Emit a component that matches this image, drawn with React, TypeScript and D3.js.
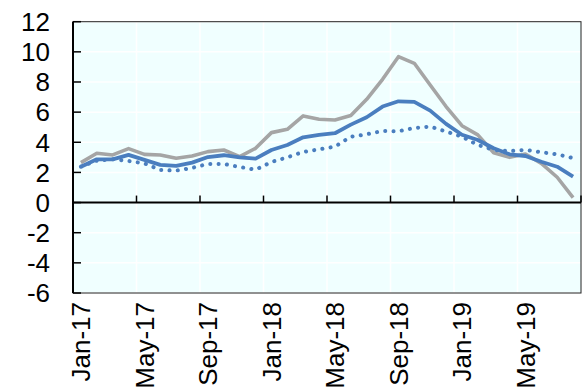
import React from "react";
import * as d3 from "d3";

// Monthly series, Jan-17 .. Aug-19
const months: string[] = [
  "Jan-17", "Feb-17", "Mar-17", "Apr-17", "May-17", "Jun-17", "Jul-17", "Aug-17",
  "Sep-17", "Oct-17", "Nov-17", "Dec-17", "Jan-18", "Feb-18", "Mar-18", "Apr-18",
  "May-18", "Jun-18", "Jul-18", "Aug-18", "Sep-18", "Oct-18", "Nov-18", "Dec-18",
  "Jan-19", "Feb-19", "Mar-19", "Apr-19", "May-19", "Jun-19", "Jul-19", "Aug-19",
];

const grayValues: number[] = [
  2.65, 3.27, 3.16, 3.58, 3.2, 3.16, 2.94, 3.09,
  3.38, 3.49, 3.05, 3.6, 4.64, 4.86, 5.75, 5.53,
  5.48, 5.77, 6.85, 8.18, 9.68, 9.24, 7.8, 6.37,
  5.1, 4.49, 3.31, 3.0, 3.22, 2.6, 1.68, 0.33,
];

const blueValues: number[] = [
  2.38, 2.87, 2.87, 3.16, 2.83, 2.5, 2.43, 2.65,
  3.02, 3.14, 3.0, 2.91, 3.49, 3.82, 4.33, 4.49,
  4.6, 5.17, 5.66, 6.37, 6.72, 6.68, 6.1, 5.22,
  4.5, 4.15, 3.6, 3.2, 3.09, 2.71, 2.38, 1.72,
];

const dottedValues: number[] = [
  2.38, 2.78, 2.87, 2.76, 2.6, 2.16, 2.12, 2.3,
  2.56, 2.56, 2.36, 2.18, 2.69, 3.0, 3.36, 3.53,
  3.71, 4.37, 4.53, 4.75, 4.73, 4.95, 5.04, 4.71,
  4.37, 3.82, 3.49, 3.42, 3.49, 3.34, 3.2, 2.95,
];

const yTicks: number[] = [-6, -4, -2, 0, 2, 4, 6, 8, 10, 12];
const labelEvery = 4;

const W = 588;
const H = 390;
const left = 73;
const right = 581;
const top = 21.7;
const bottom = 293;

const GRAY = "#A5A5A5";
const BLUE = "#4A7EBF";
const FONT = "'Liberation Sans', Arial, sans-serif";
const FONT_SIZE = 26;

export default function App() {
  const x = d3.scaleBand<string>().domain(months).range([left, right]).paddingInner(0).paddingOuter(0);
  const y = d3.scaleLinear().domain([-6, 12]).range([bottom, top]);
  const cx = (i: number) => (x(months[i]) as number) + x.bandwidth() / 2;

  const line = d3
    .line<number>()
    .x((_, i) => cx(i))
    .y((d) => y(d));

  const boundaries = months
    .map((_, i) => i)
    .filter((i) => i % labelEvery === 0 && i > 0)
    .map((i) => x(months[i]) as number);

  return (
    <svg width={W} height={H} style={{ position: "absolute", left: 0, top: 0 }}>
      <rect x={left} y={top} width={right - left} height={bottom - top} fill="#F0FFFF" />
      {/* grid */}
      {yTicks.map((t) => (
        <line key={"hg" + t} x1={left} x2={right} y1={y(t)} y2={y(t)} stroke="#FFFFFF" strokeWidth={1.5} />
      ))}
      {boundaries.map((bx, k) => (
        <line key={"vg" + k} x1={bx} x2={bx} y1={top} y2={bottom} stroke="#FFFFFF" strokeWidth={1.5} />
      ))}
      {/* frame */}
      <rect x={left} y={top} width={right - left} height={bottom - top} fill="none" stroke="#222" strokeWidth={1} />
      {/* y axis */}
      <line x1={left} x2={left} y1={top} y2={bottom} stroke="#000" strokeWidth={2} />
      {yTicks.map((t) => (
        <line key={"yt" + t} x1={left} x2={left + 8} y1={y(t)} y2={y(t)} stroke="#000" strokeWidth={1.5} />
      ))}
      {yTicks.map((t) => (
        <text
          key={"yl" + t}
          x={50}
          y={y(t)}
          dy="0.36em"
          textAnchor="end"
          fontFamily={FONT}
          fontSize={FONT_SIZE}
          fill="#000"
        >
          {t}
        </text>
      ))}
      {/* x axis on zero */}
      <line x1={left} x2={right} y1={y(0)} y2={y(0)} stroke="#000" strokeWidth={2} />
      {boundaries.concat([right]).map((bx, k) => (
        <line key={"xt" + k} x1={bx} x2={bx} y1={y(0)} y2={y(0) - 7} stroke="#000" strokeWidth={1.5} />
      ))}
      {months.map((m, i) =>
        i % labelEvery === 0 ? (
          <text
            key={"xl" + m}
            transform={`translate(${cx(i)},302) rotate(-90)`}
            dy="0.36em"
            textAnchor="end"
            fontFamily={FONT}
            fontSize={FONT_SIZE}
            fill="#000"
          >
            {m}
          </text>
        ) : null
      )}
      {/* series */}
      <path d={line(grayValues) || ""} fill="none" stroke={GRAY} strokeWidth={3.6} strokeLinejoin="round" />
      <path d={line(blueValues) || ""} fill="none" stroke={BLUE} strokeWidth={3.8} strokeLinejoin="round" />
      <path
        d={line(dottedValues) || ""}
        fill="none"
        stroke={BLUE}
        strokeWidth={4}
        strokeLinecap="round"
        strokeDasharray="0.1 8.2"
      />
    </svg>
  );
}
